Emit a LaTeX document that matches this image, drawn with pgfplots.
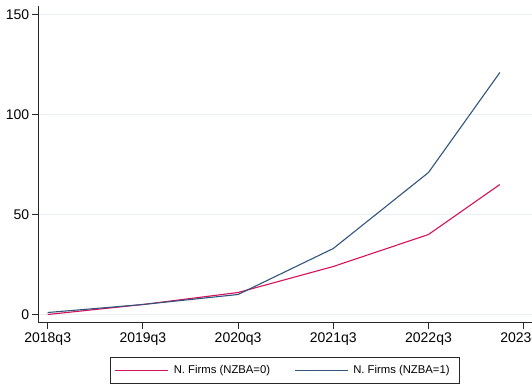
\documentclass[border=0pt]{standalone}
\usepackage{pgfplots}
\pgfplotsset{compat=1.18}
\usepackage{fontspec}
\setmainfont{Liberation Sans}

\definecolor{nzbazero}{RGB}{212,17,89}
\definecolor{nzbaone}{RGB}{48,84,124}
\definecolor{gridc}{RGB}{232,240,243}
\definecolor{axisc}{RGB}{40,40,40}

\begin{document}
\begin{tikzpicture}
\useasboundingbox (0,0) rectangle (532pt,383pt);
\clip (0,0) rectangle (532pt,383pt);
\begin{axis}[
  at={(38.3pt,60.3pt)}, anchor=south west,
  scale only axis,
  width=493.7pt, height=317pt,
  xmin=-0.395, xmax=20.35,
  ymin=-4.1, ymax=154.4,
  axis x line*=bottom, axis y line*=left,
  axis line style={axisc, line width=0.8pt},
  tick align=outside,
  major tick length=6.5pt,
  tick style={axisc, line width=0.8pt},
  xtick={0,4,8,12,16,20},
  xticklabels={2018q3,2019q3,2020q3,2021q3,2022q3,2023q3},
  ytick={0,50,100,150},
  ymajorgrids,
  grid style={gridc, line width=0.8pt},
  tick label style={font=\fontsize{14}{16}\selectfont},
  /pgf/number format/assume math mode=true,
  yticklabel style={xshift=1pt},
  legend columns=2,
  legend style={
    at={(axis description cs:0.5,0)}, anchor=north, yshift=-34.3pt,
    draw=axisc, line width=0.8pt,
    font=\fontsize{11.3}{13}\selectfont,
    inner xsep=4pt, inner ysep=6pt,
    /tikz/every odd column/.append style={column sep=3pt},
    /tikz/every even column/.append style={column sep=22pt},
  },
  legend image code/.code={\draw[#1, line width=1.1pt] (0pt,0pt) -- (53pt,0pt);},
]
% number of firms, NZBA = 0
\addplot[nzbazero, line width=1.1pt] coordinates {
  (0,0) (4,5) (8,11) (12,24) (16,40) (19,65)
};
\addlegendentry{N. Firms (NZBA=0)}
% number of firms, NZBA = 1
\addplot[nzbaone, line width=1.1pt] coordinates {
  (0,1) (4,5) (8,10) (12,33) (16,71) (19,121)
};
\addlegendentry{N. Firms (NZBA=1)\hspace*{4pt}}
\end{axis}
\end{tikzpicture}
\end{document}
